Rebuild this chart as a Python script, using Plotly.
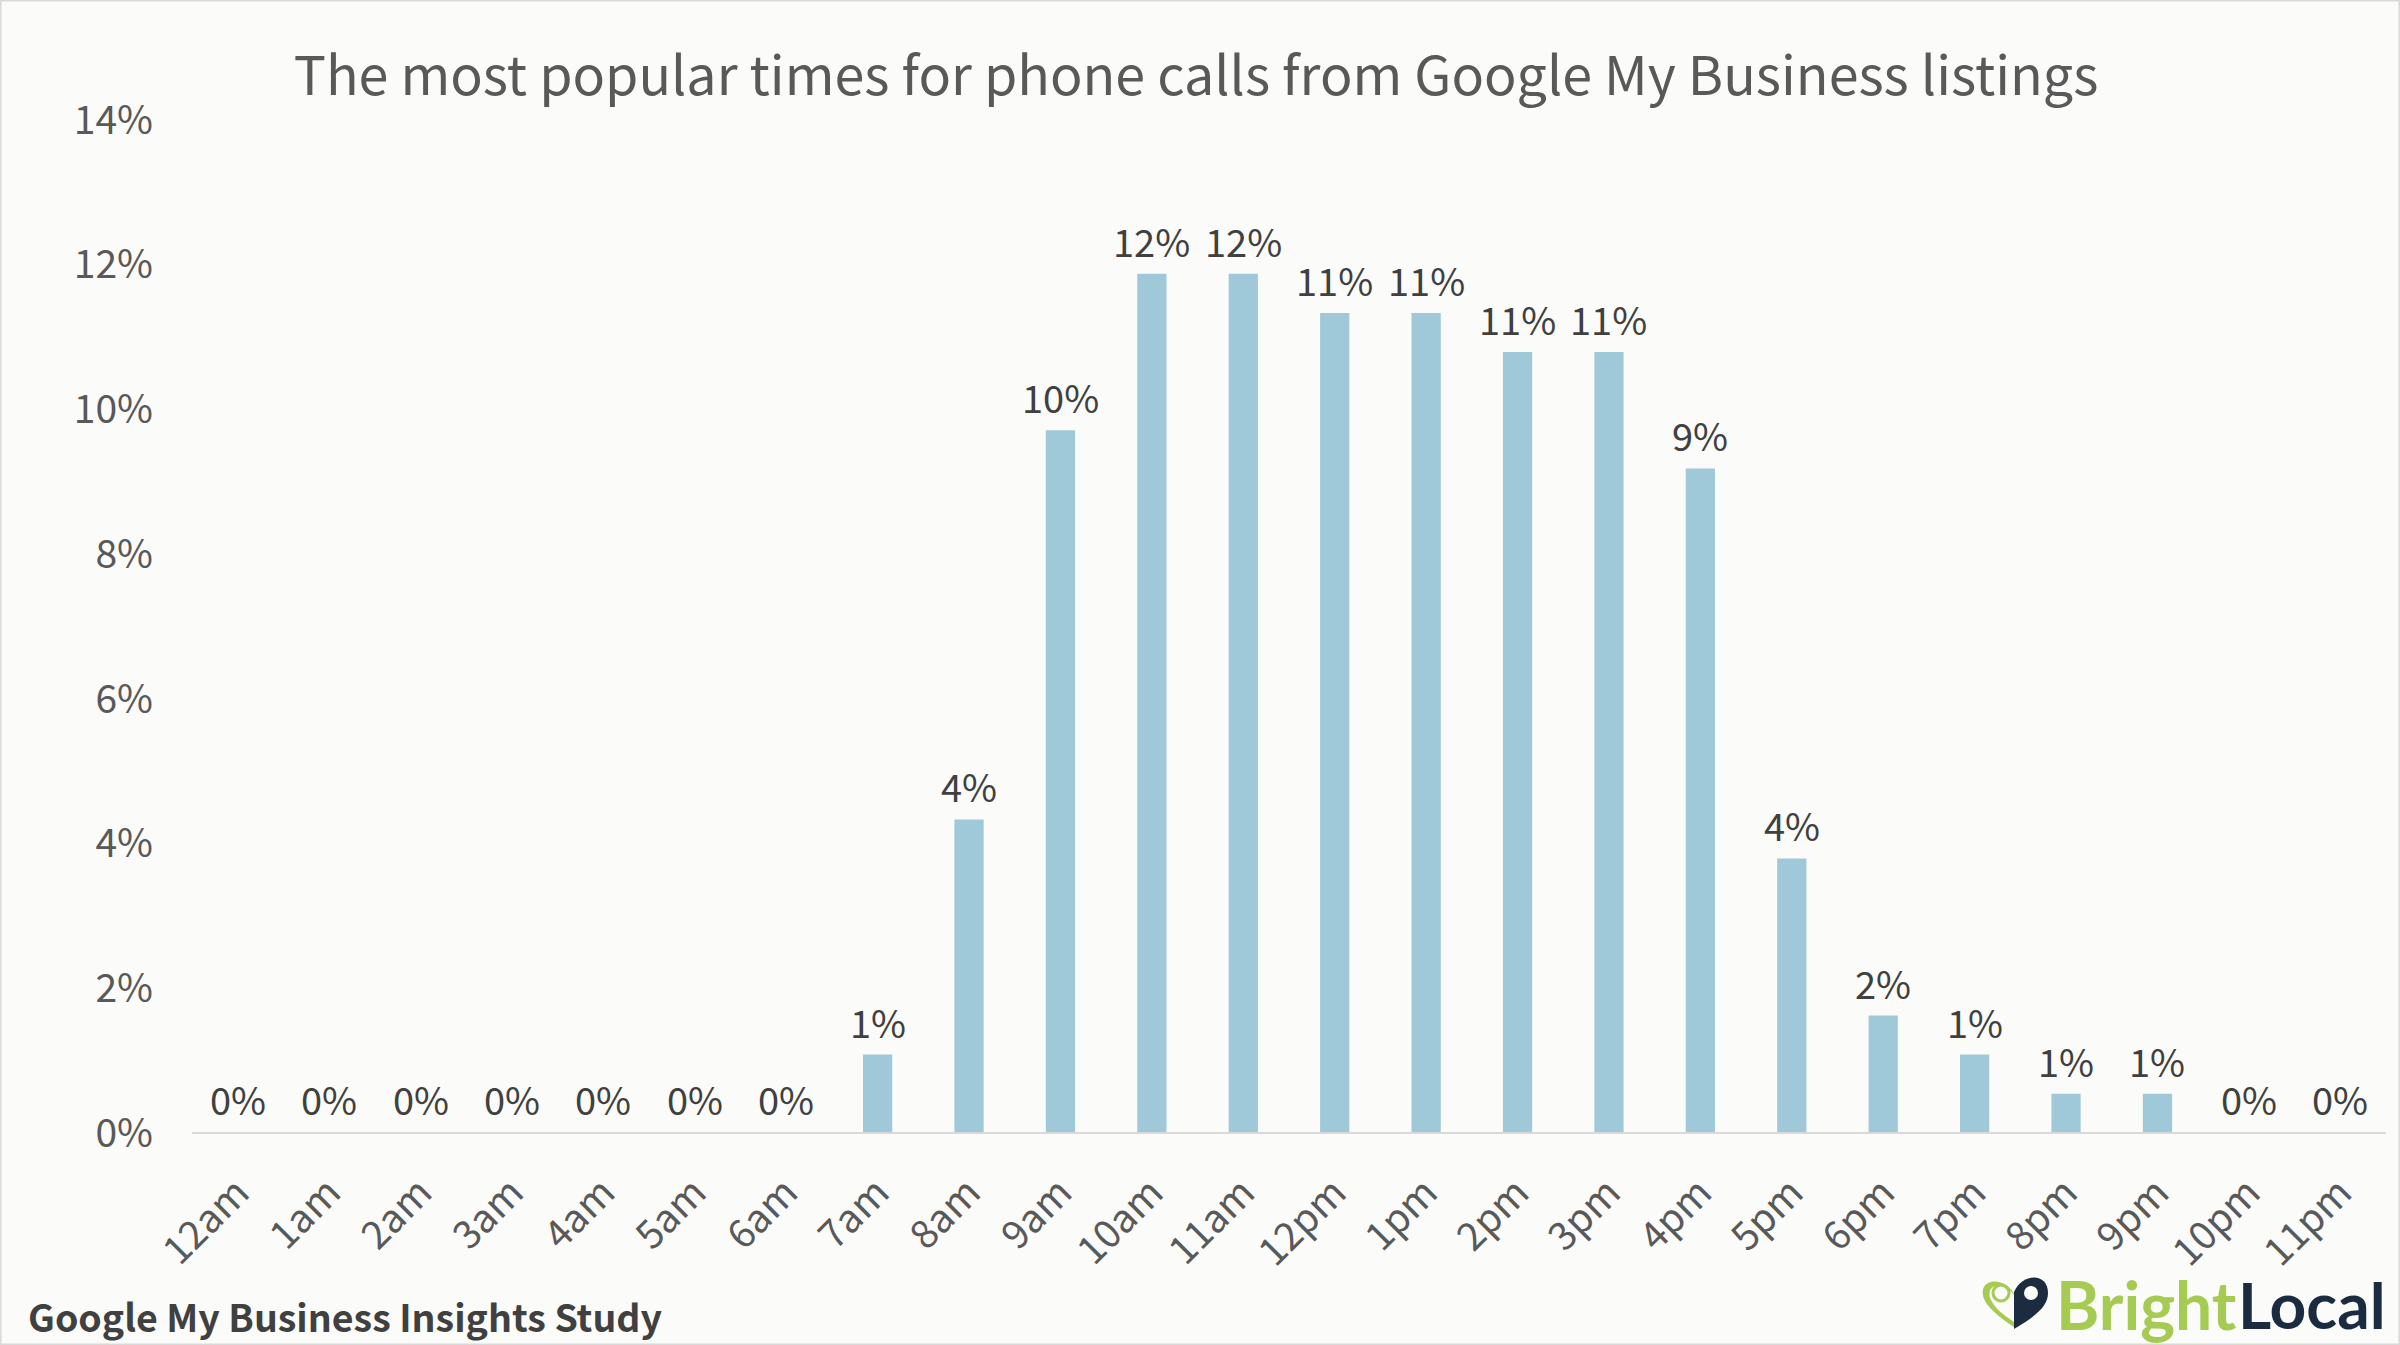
import plotly.graph_objects as go

hours = ["12am","1am","2am","3am","4am","5am","6am","7am","8am","9am","10am","11am",
         "12pm","1pm","2pm","3pm","4pm","5pm","6pm","7pm","8pm","9pm","10pm","11pm"]
share = [0,0,0,0,0,0,0,1.07,4.32,9.7,11.86,11.86,11.32,11.32,10.78,10.78,9.17,3.78,1.61,1.07,0.53,0.53,0,0]
labels = ["0%","0%","0%","0%","0%","0%","0%","1%","4%","10%","12%","12%","11%","11%","11%","11%","9%","4%","2%","1%","1%","1%","0%","0%"]
y_ticks = [0,2,4,6,8,10,12,14]
y_tick_labels = ["0%","2%","4%","6%","8%","10%","12%","14%"]

W, H = 2400, 1345
L, R, T, B = 192, 2386, 119, 1132
FONT = "Noto Sans CJK JP"
GREY = "#595959"
DARK = "#404040"
NAVY = "#1B2B40"
GREEN = "#A5CB52"
BG = "#FBFBF9"

def px(x): return (x - L) / (R - L)
def py(y): return (B - y) / (B - T)

heart = ("M {} {} C {} {} {} {} {} {} C {} {} {} {} {} {} L {} {} ".format(
    px(2015), py(1296), px(2006), py(1274), px(1974), py(1278), px(1985), py(1301),
    px(1990), py(1310), px(2003), py(1320), px(2014), py(1327), px(2014), py(1322))
    + "C {} {} {} {} {} {} C {} {} {} {} {} {} Z".format(
    px(2004), py(1315), px(1994), py(1308), px(1990), py(1298),
    px(1986), py(1282), px(2005), py(1282), px(2015), py(1296)))
pin = ("M {} {} C {} {} {} {} {} {} C {} {} {} {} {} {} C {} {} {} {} {} {} L {} {} Z".format(
    px(2014), py(1329), px(2036), py(1316), px(2048), py(1306), px(2048), py(1293),
    px(2048), py(1272), px(2022), py(1273), px(2014), py(1292),
    px(2014), py(1300), px(2014), py(1310), px(2014), py(1320), px(2014), py(1329)))

fig = go.Figure(go.Bar(
    x=hours, y=share, cliponaxis=False,
    marker=dict(color="#9FC9D9", line=dict(width=0)), width=0.32,
    hoverinfo="skip", showlegend=False,
))

bar_labels = [
    dict(text=t, x=h, y=v, xref="x", yref="y", xanchor="center", yanchor="middle", yshift=33.5,
         showarrow=False, font=dict(family=FONT, size=38, color=DARK))
    for h, v, t in zip(hours, share, labels)
]

fig.update_layout(
    width=W, height=H, paper_bgcolor=BG, plot_bgcolor=BG,
    margin=dict(l=L, r=W - R, t=T, b=H - B, autoexpand=False),
    title=dict(text="The most popular times for phone calls from Google My Business listings",
               x=1196 / W, xanchor="center", y=1 - 76.5 / H, yanchor="middle",
               font=dict(family=FONT, size=53.8, color=GREY)),
    font=dict(family=FONT),
    xaxis=dict(type="category", categoryorder="array", categoryarray=hours, tickangle=-45,
               tickfont=dict(family=FONT, size=39, color=GREY), ticks="", showgrid=False,
               showline=True, linecolor="#D9D9D9", linewidth=2, zeroline=False,
               range=[-0.5, 23.5], ticklabelstandoff=20),
    yaxis=dict(range=[0, 14], tickvals=y_ticks, ticktext=y_tick_labels, showgrid=False,
               tickfont=dict(family=FONT, size=39, color=GREY), ticks="", zeroline=False,
               showline=False, ticklabelstandoff=38, ticklabelshift=1),
    annotations=bar_labels + [
        dict(text="<b>Google My Business Insights Study</b>", x=px(26), y=py(1315), xref="paper", yref="paper",
             xanchor="left", yanchor="middle", showarrow=False,
             font=dict(family=FONT, size=37.5, color=DARK)),
        dict(text="Bright", x=px(2054), y=py(1304), xref="paper", yref="paper", xanchor="left",
             yanchor="middle", showarrow=False, font=dict(family="Lato", size=66, color=GREEN, weight=700)),
        dict(text="Local", x=px(2236), y=py(1304), xref="paper", yref="paper", xanchor="left",
             yanchor="middle", showarrow=False, font=dict(family="Lato", size=64, color=NAVY, weight=700)),
    ],
    shapes=[
        dict(type="rect", xref="paper", yref="paper", x0=px(0), x1=px(W), y0=py(H), y1=py(0),
             line=dict(color="#D9D9D9", width=3), layer="below"),
        dict(type="path", xref="paper", yref="paper", path=heart, fillcolor=GREEN, line=dict(width=0)),
        dict(type="path", xref="paper", yref="paper", path=pin, fillcolor=NAVY, line=dict(width=0)),
        dict(type="circle", xref="paper", yref="paper", x0=px(1993), x1=px(2009), y0=py(1301), y1=py(1285),
             line=dict(color=GREEN, width=3)),
        dict(type="circle", xref="paper", yref="paper", x0=px(2024), x1=px(2038), y0=py(1300), y1=py(1286),
             fillcolor=BG, line=dict(width=0)),
    ],
)

fig.write_html("out.html", post_script="document.body.style.margin='0';", config=dict(displayModeBar=False))
